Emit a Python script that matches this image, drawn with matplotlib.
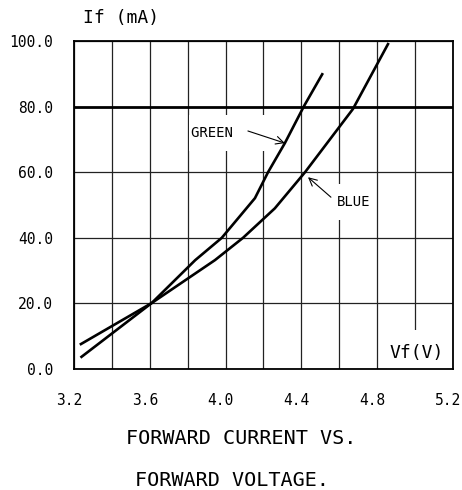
import numpy as np
from matplotlib import pyplot as plt
from matplotlib import transforms

# forward voltage (V) vs forward current (mA)
green_vf = [3.24, 3.61, 3.84, 3.98, 4.155, 4.224, 4.313, 4.414, 4.51]
green_if = [3.7, 20.1, 33.2, 40.0, 52.1, 60.0, 68.9, 80.2, 89.9]

blue_vf = [3.237, 3.61, 3.944, 4.092, 4.26, 4.419, 4.672, 4.857]
blue_if = [7.6, 20.1, 33.2, 40.0, 49.0, 60.0, 79.3, 99.1]

x_major = [3.2, 3.6, 4.0, 4.4, 4.8, 5.2]
x_minor = [3.4, 3.8, 4.2, 4.6, 5.0]
y_ticks = [0, 20, 40, 60, 80, 100]

plt.rcParams['font.family'] = 'DejaVu Sans Mono'

fig = plt.figure(figsize=(4.62, 4.90), dpi=100)
ax = fig.add_axes([0.160, 0.247, 0.8205, 0.669])

ax.plot(green_vf, green_if, color='black', lw=1.9, zorder=3)
ax.plot(blue_vf, blue_if, color='black', lw=1.9, zorder=3)

ax.set_xlim(3.2, 5.2)
ax.set_ylim(0, 100)
ax.set_xticks(x_major)
ax.set_xticks(x_minor, minor=True)
ax.set_xticklabels(['%.1f' % v for v in x_major], fontsize=10.5)
ax.set_yticks(y_ticks)
ax.set_yticklabels(['%.1f' % v for v in y_ticks], fontsize=10.5)
ax.tick_params(axis='both', which='both', length=0)
ax.tick_params(axis='x', pad=17)
ax.tick_params(axis='y', pad=15)
shift = transforms.ScaledTranslation(-0.05, 0, fig.dpi_scale_trans)
for lab in ax.get_xticklabels():
    lab.set_transform(lab.get_transform() + shift)

ax.set_axisbelow(True)
ax.grid(True, which='both', color='#222222', lw=0.9)
ax.get_ygridlines()[4].set_linewidth(2.0)
ax.get_ygridlines()[4].set_color('black')
for s in ax.spines.values():
    s.set_linewidth(1.3)
    s.set_zorder(4)

# curve labels with white boxes that break the grid
box = dict(boxstyle='square,pad=0.15', fc='white', ec='none')
ax.text(3.82, 72, '\nGREEN     \n', fontsize=10, ha='left', va='center',
        bbox=box, zorder=1.5, linespacing=0.55)
ax.text(4.678, 50.9, '\nBLUE\n', fontsize=10, ha='center', va='center',
        bbox=box, zorder=1.5, linespacing=0.55)
ax.text(5.01, 5.0, '\nVf(V)\n', fontsize=13, ha='center', va='center',
        bbox=box, zorder=1.5, linespacing=0.5)

arrow = dict(arrowstyle='->', color='black', lw=0.8, mutation_scale=14,
             shrinkA=0, shrinkB=0)
ax.annotate('', xy=(4.313, 68.9), xytext=(4.118, 72.6), arrowprops=arrow, zorder=3)
ax.annotate('', xy=(4.435, 58.5), xytext=(4.556, 52.4), arrowprops=arrow, zorder=3)

ax.text(0.024, 1.07, 'If (mA)', transform=ax.transAxes, fontsize=13,
        ha='left', va='center')

fig.text(0.522, 0.106, 'FORWARD CURRENT VS.', fontsize=14.5, ha='center', va='center')
fig.text(0.503, 0.020, 'FORWARD VOLTAGE.', fontsize=14.5, ha='center', va='center')

fig.savefig('out.png', dpi=100)
